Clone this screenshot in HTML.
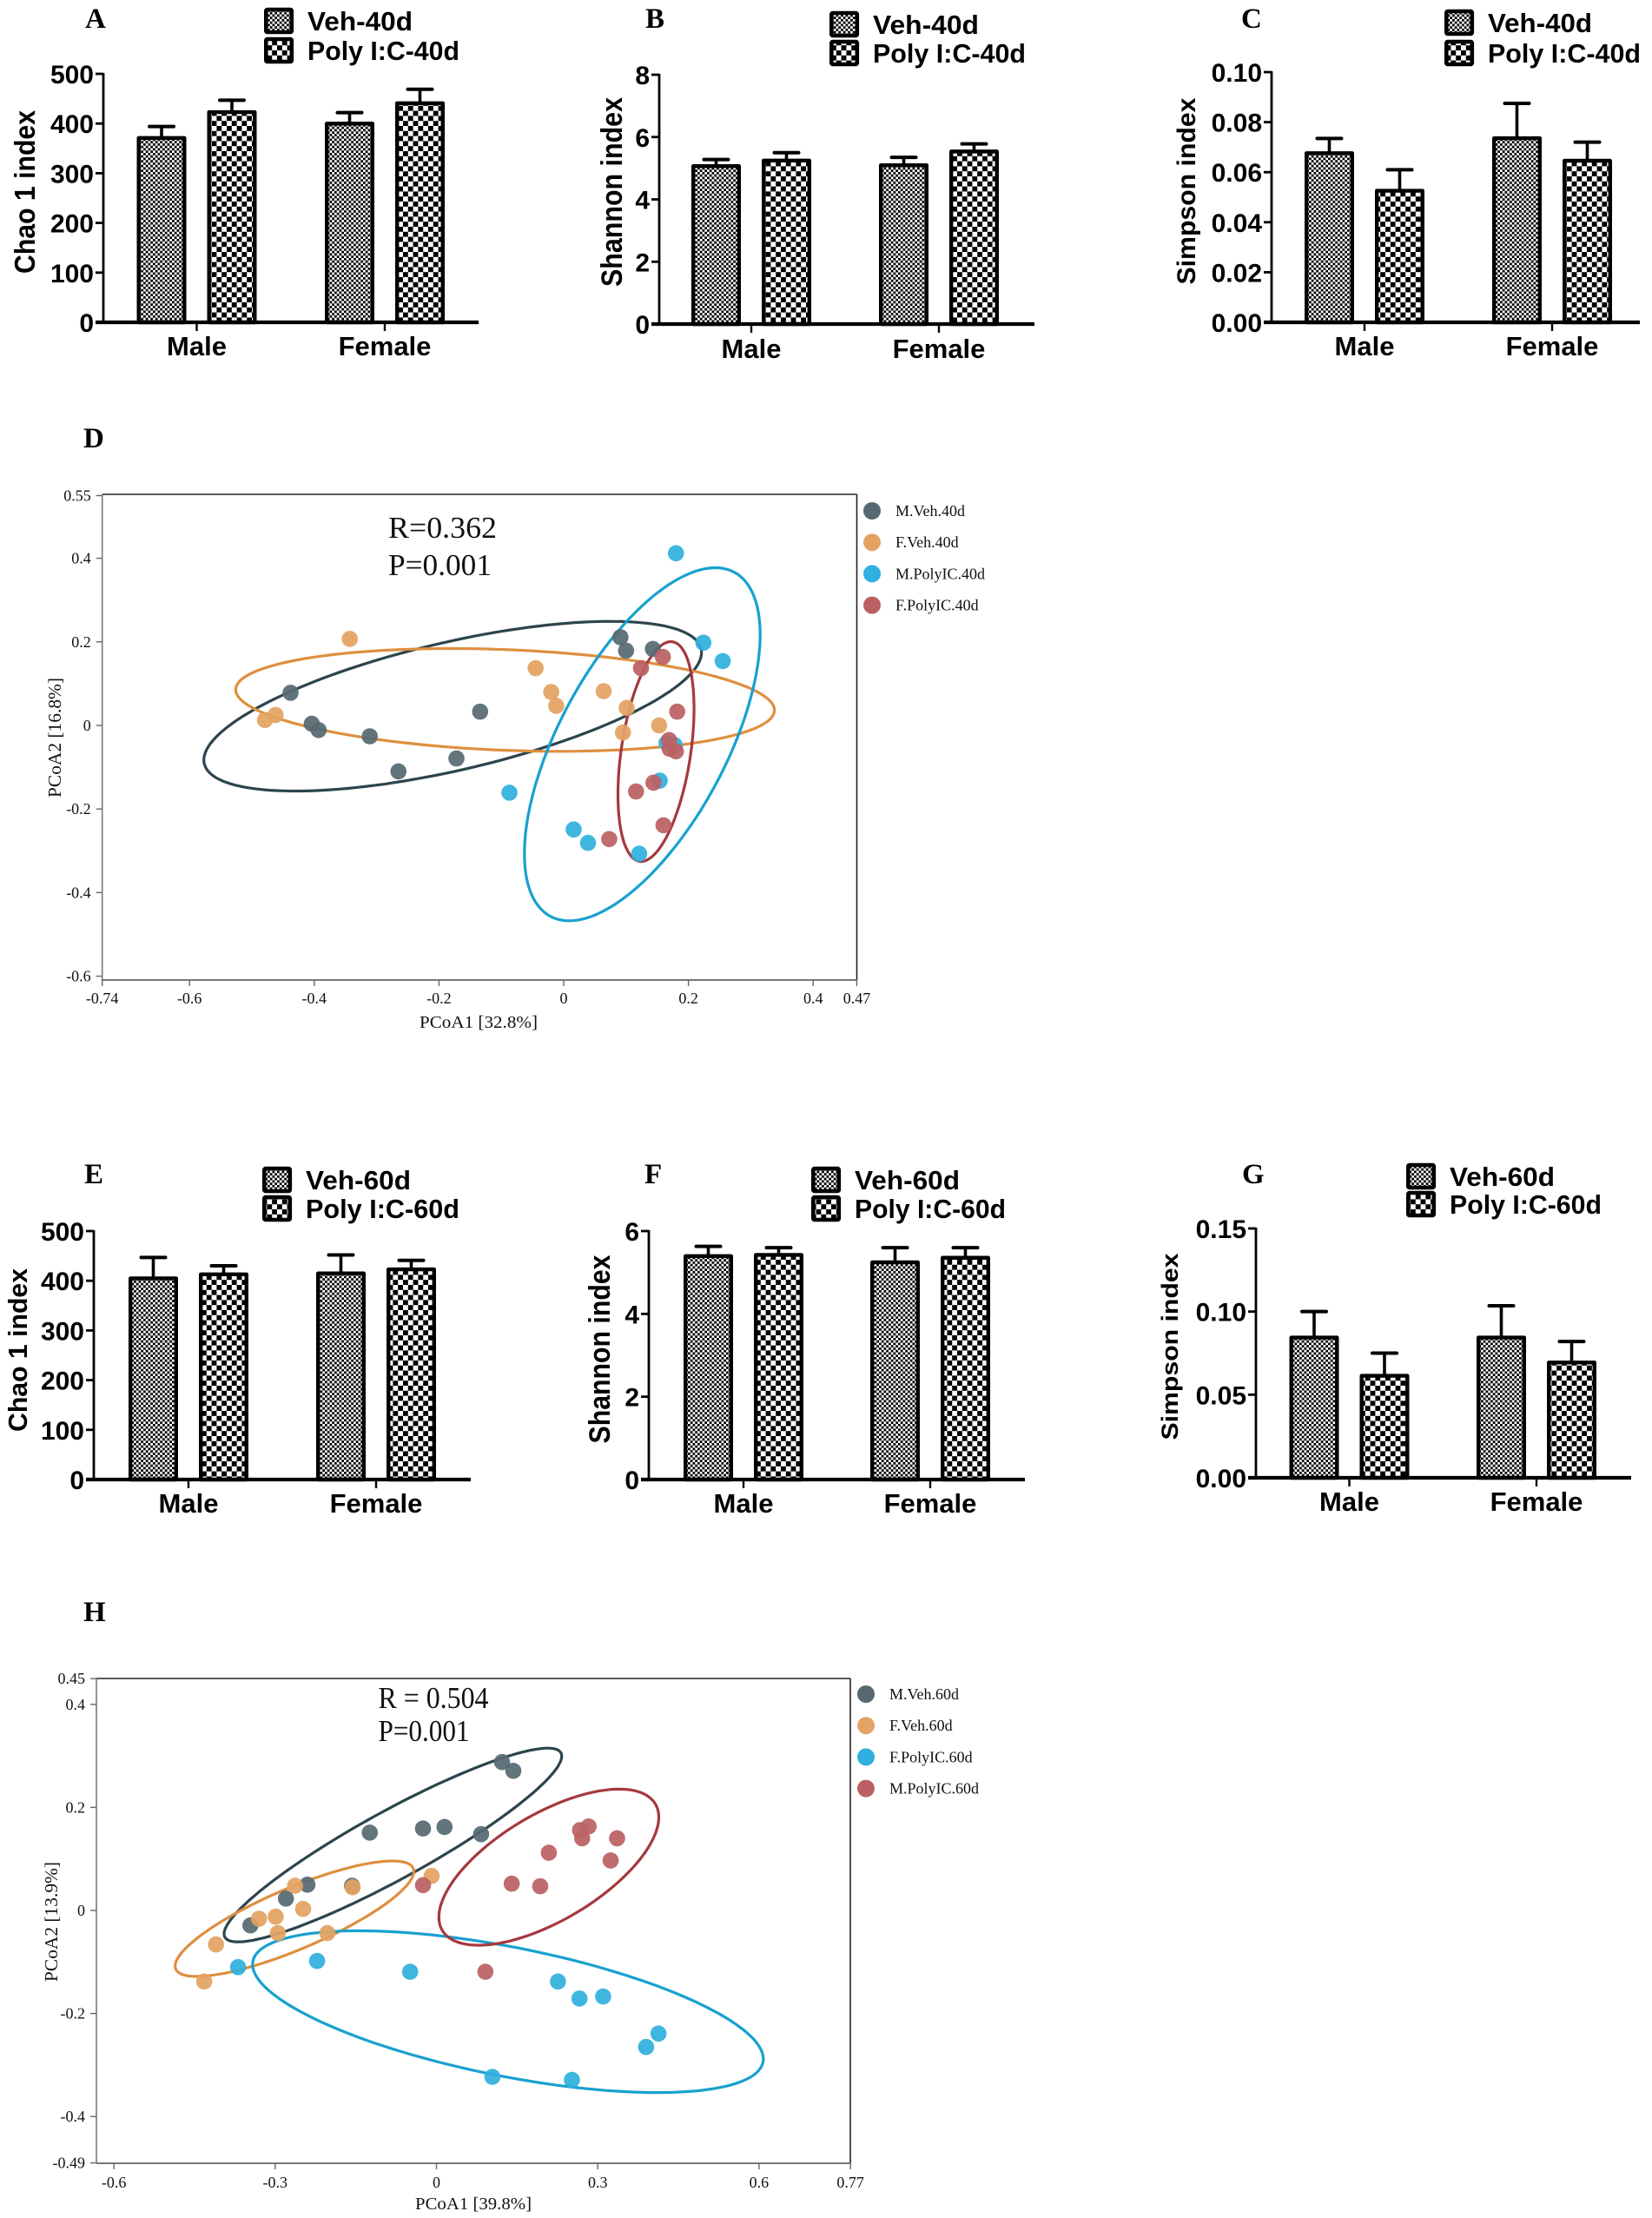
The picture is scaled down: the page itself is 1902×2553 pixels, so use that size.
<!DOCTYPE html>
<html lang="en">
<head>
<meta charset="utf-8">
<title>Alpha diversity and PCoA panels</title>
<style>
html,body{margin:0;padding:0;background:#fff;}
body{width:1902px;height:2553px;overflow:hidden;}
svg{display:block;}
.bar-font{font-family:"Liberation Sans",Arial,sans-serif;font-weight:700;fill:#000;}
.serif-font{font-family:"Liberation Serif","Times New Roman",serif;fill:#111;}
.panel-letter{font-family:"Liberation Serif","Times New Roman",serif;font-weight:700;fill:#000;font-size:33px;}
</style>
</head>
<body>
<svg id="figure" xmlns="http://www.w3.org/2000/svg" width="1902" height="2553" viewBox="0 0 1902 2553">
  <defs>
    <pattern id="fine-check" patternUnits="userSpaceOnUse" width="5.5" height="5.5">
      <rect width="5.5" height="5.5" fill="#fff"/>
      <rect width="2.75" height="2.75" fill="#000"/>
      <rect x="2.75" y="2.75" width="2.75" height="2.75" fill="#000"/>
    </pattern>
    <pattern id="coarse-check" patternUnits="userSpaceOnUse" width="11.6" height="11.6">
      <rect width="11.6" height="11.6" fill="#fff"/>
      <rect width="5.8" height="5.8" fill="#000"/>
      <rect x="5.8" y="5.8" width="5.8" height="5.8" fill="#000"/>
    </pattern>
  </defs>
</svg>
<script>
// ---- Bar chart data ----
const barCategories = ['Male', 'Female'];

const chaoTicks = ['0', '100', '200', '300', '400', '500'];
const shannon40Ticks = ['0', '2', '4', '6', '8'];
const simpson40Ticks = ['0.00', '0.02', '0.04', '0.06', '0.08', '0.10'];
const shannon60Ticks = ['0', '2', '4', '6'];
const simpson60Ticks = ['0.00', '0.05', '0.10', '0.15'];

const chao40Veh = [373, 402];
const chao40VehErr = [21, 20];
const chao40Poly = [425, 443];
const chao40PolyErr = [22, 26];

const shannon40Veh = [5.1, 5.13];
const shannon40VehErr = [0.18, 0.22];
const shannon40Poly = [5.28, 5.57];
const shannon40PolyErr = [0.22, 0.21];

const simpson40Veh = [0.068, 0.074];
const simpson40VehErr = [0.0055, 0.0135];
const simpson40Poly = [0.053, 0.065];
const simpson40PolyErr = [0.008, 0.007];

const chao60Veh = [407, 417];
const chao60VehErr = [40, 35];
const chao60Poly = [415, 425];
const chao60PolyErr = [15, 16];

const shannon60Veh = [5.42, 5.27];
const shannon60VehErr = [0.21, 0.33];
const shannon60Poly = [5.45, 5.38];
const shannon60PolyErr = [0.15, 0.22];

const simpson60Veh = [0.085, 0.085];
const simpson60VehErr = [0.015, 0.0185];
const simpson60Poly = [0.062, 0.07];
const simpson60PolyErr = [0.013, 0.012];

// ---- PCoA panel D data ----
const dXTicks = [-0.74, -0.6, -0.4, -0.2, 0, 0.2, 0.4, 0.47];
const dYTicks = [0.55, 0.4, 0.2, 0, -0.2, -0.4, -0.6];
const dLegend = ['M.Veh.40d', 'F.Veh.40d', 'M.PolyIC.40d', 'F.PolyIC.40d'];

const dMVehX = [-0.438, -0.404, -0.393, -0.311, -0.265, -0.172, -0.134, 0.091, 0.1, 0.143];
const dMVehY = [0.078, 0.004, -0.011, -0.026, -0.11, -0.079, 0.033, 0.211, 0.179, 0.183];
const dFVehX = [-0.343, -0.479, -0.462, -0.045, -0.02, -0.012, 0.064, 0.101, 0.095, 0.153];
const dFVehY = [0.207, 0.013, 0.025, 0.137, 0.08, 0.047, 0.082, 0.042, -0.017, 0];
const dMPolyX = [0.18, 0.224, 0.255, 0.165, 0.178, 0.154, -0.087, 0.016, 0.039, 0.121];
const dMPolyY = [0.412, 0.198, 0.154, -0.042, -0.047, -0.132, -0.161, -0.249, -0.281, -0.307];
const dFPolyX = [0.159, 0.124, 0.182, 0.169, 0.17, 0.18, 0.144, 0.116, 0.16, 0.073];
const dFPolyY = [0.164, 0.137, 0.033, -0.035, -0.056, -0.062, -0.137, -0.158, -0.239, -0.272];

// centre x, centre y, half x extent, half y extent, correlation
const dMVehEllipse = [-0.178, 0.046, 0.399, 0.203, 0.634];
const dFVehEllipse = [-0.094, 0.061, 0.432, 0.123, -0.2];
const dMPolyEllipse = [0.126, -0.045, 0.189, 0.4224, 0.62];
const dFPolyEllipse = [0.148, -0.0625, 0.061, 0.263, 0.39];

// ---- PCoA panel H data ----
const hXTicks = [-0.6, -0.3, 0, 0.3, 0.6, 0.77];
const hYTicks = [0.45, 0.4, 0.2, 0, -0.2, -0.4, -0.49];
const hLegend = ['M.Veh.60d', 'F.Veh.60d', 'F.PolyIC.60d', 'M.PolyIC.60d'];

const hMVehX = [0.122, 0.143, -0.124, -0.025, 0.015, 0.083, -0.24, -0.157, -0.28, -0.346];
const hMVehY = [0.288, 0.271, 0.151, 0.159, 0.162, 0.148, 0.05, 0.048, 0.023, -0.029];
const hFVehX = [-0.009, -0.263, -0.156, -0.248, -0.33, -0.299, -0.295, -0.203, -0.41, -0.432];
const hFVehY = [0.067, 0.048, 0.045, 0.003, -0.016, -0.012, -0.044, -0.044, -0.066, -0.138];
const hFPolyX = [-0.369, -0.222, -0.049, 0.226, 0.266, 0.31, 0.413, 0.39, 0.104, 0.252];
const hFPolyY = [-0.11, -0.098, -0.119, -0.138, -0.171, -0.167, -0.239, -0.265, -0.323, -0.329];
const hMPolyX = [-0.025, 0.091, 0.14, 0.193, 0.209, 0.324, 0.271, 0.267, 0.283, 0.336];
const hMPolyY = [0.049, -0.119, 0.052, 0.047, 0.112, 0.097, 0.14, 0.156, 0.163, 0.14];

const hMVehEllipse = [-0.081, 0.127, 0.314, 0.188, 0.917];
const hFVehEllipse = [-0.264, -0.016, 0.222, 0.112, 0.82];
const hFPolyEllipse = [0.133, -0.1965, 0.475, 0.157, -0.584];
const hMPolyEllipse = [0.209, 0.084, 0.2045, 0.1515, 0.64];

// ---- Drawing helpers ----
const SVG_NS = 'http://www.w3.org/2000/svg';
const root = document.getElementById('figure');

function mk(parent, tag, attrs, text) {
  const el = document.createElementNS(SVG_NS, tag);
  for (const k in attrs) el.setAttribute(k, attrs[k]);
  if (text !== undefined) el.textContent = text;
  parent.appendChild(el);
  return el;
}

function panelGroup(name) {
  const g = mk(root, 'g', {});
  
  
  return g;
}

function panelLetter(parent, letter, x, y) {
  const el = mk(parent, 'text', { x: x, y: y, class: 'panel-letter' }, letter);
  
  
}

function drawBarChart(o) {
  const g = panelGroup(o.name);
  panelLetter(g, o.letter, o.letterX, o.letterY);

  const yScale = function (v) { return o.y0 - (v / o.maxValue) * (o.y0 - o.yTop); };
  const xScale = function (i) { return o.tick0 + i * (o.tick1 - o.tick0); };
  const offset = 40.5;
  const barW = 57;
  const sw = 4.4;

  // bars and error whiskers
  const series = [
    { values: o.veh, errs: o.vehErr, side: -1, fill: 'url(#fine-check)', label: 'veh' },
    { values: o.poly, errs: o.polyErr, side: 1, fill: 'url(#coarse-check)', label: 'poly' }
  ];
  series.forEach(function (s) {
    s.values.forEach(function (v, i) {
      const cx = xScale(i) + s.side * offset;
      const topY = yScale(v);
      const errY = yScale(v + s.errs[i]);

      const stem = mk(g, 'line', { x1: cx, x2: cx, y1: topY, y2: errY, stroke: '#000', 'stroke-width': 3.6 });
      
      

      const cap = mk(g, 'line', { x1: cx - 14, x2: cx + 14, y1: errY, y2: errY, stroke: '#000', 'stroke-width': 4, 'stroke-linecap': 'round' });
      
      

      const bar = mk(g, 'rect', {
        x: cx - barW / 2 + sw / 2, y: topY + sw / 2 - 1,
        width: barW - sw, height: o.y0 - topY - sw / 2 + 1,
        fill: s.fill, stroke: '#000', 'stroke-width': sw, 'stroke-linejoin': 'round'
      });
      
      
    });
  });

  // y axis
  const yAxis = mk(g, 'line', { x1: o.axisX, x2: o.axisX, y1: o.yTop - 1, y2: o.y0, stroke: '#000', 'stroke-width': 2.8 });
  
  

  o.ticks.forEach(function (label) {
    const ty = yScale(Number(label));
    const tick = mk(g, 'line', { x1: o.axisX - 9, x2: o.axisX, y1: ty, y2: ty, stroke: '#000', 'stroke-width': 2.8 });
    
    

    const tl = mk(g, 'text', { x: o.axisX - 11, y: ty + 11, 'text-anchor': 'end', class: 'bar-font', 'font-size': 30 }, label);
    
    
  });

  // x axis
  const xAxis = mk(g, 'line', { x1: o.axisX - 9, x2: o.axisEnd, y1: o.y0, y2: o.y0, stroke: '#000', 'stroke-width': 4.2 });
  
  

  barCategories.forEach(function (c, i) {
    const tx = xScale(i);
    const tick = mk(g, 'line', { x1: tx, x2: tx, y1: o.y0, y2: o.y0 + 10, stroke: '#000', 'stroke-width': 2.4 });
    
    

    const tl = mk(g, 'text', { x: tx, y: o.catY + 11, 'text-anchor': 'middle', class: 'bar-font', 'font-size': 31 }, c);
    
    
  });

  // y title
  const title = mk(g, 'text', {
    x: 0, y: 0, 'text-anchor': 'middle', class: 'bar-font', 'font-size': o.titleSize,
    textLength: o.titleLen, lengthAdjust: 'spacingAndGlyphs',
    transform: 'translate(' + o.titleX + ' ' + o.titleY + ') rotate(-90)'
  }, o.title);
  
  

  // legend
  const legendRows = [
    { y: o.legY1, text: 'Veh-' + o.age, fill: 'url(#fine-check)', w: o.legW1 },
    { y: o.legY2, text: 'Poly I:C-' + o.age, fill: 'url(#coarse-check)', w: o.legW2 }
  ];
  legendRows.forEach(function (r) {
    const sw2 = mk(g, 'rect', {
      x: o.legX + 2.3, y: r.y - 13, width: 29.5, height: 26,
      fill: r.fill, stroke: '#000', 'stroke-width': 4.6, rx: 1.5
    });
    
    

    const t = mk(g, 'text', {
      x: o.legX + 50, y: r.y + 11, class: 'bar-font', 'font-size': 31,
      textLength: r.w, lengthAdjust: 'spacingAndGlyphs'
    }, r.text);
    
    
  });
}

function drawScatter(o) {
  const g = panelGroup(o.name);
  panelLetter(g, o.letter, o.letterX, o.letterY);

  const xS = function (v) { return o.xZero + v * o.xUnit; };
  const yS = function (v) { return o.yZero - v * o.yUnit; };
  const left = o.left, right = o.right, top = o.top, bottom = o.bottom;

  // frame
  const frameTop = mk(g, 'line', { x1: left, x2: right, y1: top, y2: top, stroke: '#222', 'stroke-width': 1.6 });
  
  

  const frameRight = mk(g, 'line', { x1: right, x2: right, y1: top, y2: bottom, stroke: '#222', 'stroke-width': 1.6 });
  
  

  const frameLeft = mk(g, 'line', { x1: left, x2: left, y1: top, y2: bottom, stroke: '#777', 'stroke-width': 1.6 });
  
  

  const frameBottom = mk(g, 'line', { x1: left, x2: right, y1: bottom, y2: bottom, stroke: '#777', 'stroke-width': 2 });
  
  

  // ticks
  o.xTicks.forEach(function (v) {
    const tx = xS(v);
    const tick = mk(g, 'line', { x1: tx, x2: tx, y1: bottom, y2: bottom + 7, stroke: '#666', 'stroke-width': 1.4 });
    
    

    const tl = mk(g, 'text', { x: tx, y: o.xLabelY + 6, 'text-anchor': 'middle', class: 'serif-font', 'font-size': 18 }, String(v));
    
    
  });
  o.yTicks.forEach(function (v) {
    const ty = yS(v);
    const tick = mk(g, 'line', { x1: left - 7, x2: left, y1: ty, y2: ty, stroke: '#666', 'stroke-width': 1.4 });
    
    

    const tl = mk(g, 'text', { x: left - 13, y: ty + 6, 'text-anchor': 'end', class: 'serif-font', 'font-size': 18 }, String(v));
    
    
  });

  // ellipses
  o.groups.forEach(function (gr) {
    const e = gr.ellipse;
    const phi = Math.acos(e[4]);
    let d = '';
    for (let k = 0; k <= 160; k++) {
      const t = k / 160 * 2 * Math.PI;
      const px = xS(e[0] + e[2] * Math.cos(t));
      const py = yS(e[1] + e[3] * Math.cos(t - phi));
      d += (k ? 'L' : 'M') + px.toFixed(1) + ' ' + py.toFixed(1);
    }
    const path = mk(g, 'path', { d: d + 'Z', fill: 'none', stroke: gr.line, 'stroke-width': 3.2 });
    
    
  });

  // points
  o.groups.forEach(function (gr) {
    gr.xs.forEach(function (v, i) {
      const c = mk(g, 'circle', { cx: xS(v), cy: yS(gr.ys[i]), r: 9.3, fill: gr.point, 'fill-opacity': 0.93 });
      
      
    });
  });

  // legend
  o.legend.forEach(function (label, i) {
    const ly = o.legendY + i * o.legendStep;
    const c = mk(g, 'circle', { cx: o.legendX, cy: ly, r: 10, fill: o.groups[i].point });
    
    

    const t = mk(g, 'text', { x: o.legendX + 27, y: ly + 6, class: 'serif-font', 'font-size': 18 }, label);
    
    
  });

  // statistics annotation
  const rText = mk(g, 'text', {
    x: o.statX, y: o.rY + 12, class: 'serif-font', 'font-size': 35,
    textLength: o.rLen, lengthAdjust: 'spacingAndGlyphs'
  }, o.rLabel);
  
  

  const pText = mk(g, 'text', {
    x: o.statX, y: o.pY + 12, class: 'serif-font', 'font-size': 35,
    textLength: o.pLen, lengthAdjust: 'spacingAndGlyphs'
  }, 'P=0.001');
  
  

  // axis titles
  const xt = mk(g, 'text', {
    x: o.xTitleX, y: o.xTitleY + 7, 'text-anchor': 'middle', class: 'serif-font', 'font-size': 20,
    textLength: o.xTitleLen, lengthAdjust: 'spacingAndGlyphs'
  }, o.xTitle);
  
  

  const yt = mk(g, 'text', {
    x: 0, y: 0, 'text-anchor': 'middle', class: 'serif-font', 'font-size': 21,
    textLength: o.yTitleLen, lengthAdjust: 'spacingAndGlyphs',
    transform: 'translate(' + o.yTitleX + ' ' + o.yTitleY + ') rotate(-90)'
  }, o.yTitle);
  
  
}

// ---- Panels ----
drawBarChart({
  name: 'panel-a-chao-40d', letter: 'A', letterX: 98, letterY: 32, age: '40d',
  veh: chao40Veh, vehErr: chao40VehErr, poly: chao40Poly, polyErr: chao40PolyErr,
  ticks: chaoTicks, maxValue: 500, axisX: 119, y0: 371, yTop: 85, axisEnd: 551, tick0: 226.5, tick1: 443, catY: 398,
  title: 'Chao 1 index', titleSize: 33, titleLen: 188, titleX: 40, titleY: 221,
  legX: 304, legY1: 24, legY2: 58, legW1: 121, legW2: 175
});
drawBarChart({
  name: 'panel-b-shannon-40d', letter: 'B', letterX: 743, letterY: 32, age: '40d',
  veh: shannon40Veh, vehErr: shannon40VehErr, poly: shannon40Poly, polyErr: shannon40PolyErr,
  ticks: shannon40Ticks, maxValue: 8, axisX: 759, y0: 373, yTop: 86, axisEnd: 1191, tick0: 865, tick1: 1081, catY: 401,
  title: 'Shannon index', titleSize: 34, titleLen: 218, titleX: 716, titleY: 221,
  legX: 955, legY1: 28, legY2: 61, legW1: 122, legW2: 176
});
drawBarChart({
  name: 'panel-c-simpson-40d', letter: 'C', letterX: 1429, letterY: 32, age: '40d',
  veh: simpson40Veh, vehErr: simpson40VehErr, poly: simpson40Poly, polyErr: simpson40PolyErr,
  ticks: simpson40Ticks, maxValue: 0.1, axisX: 1464, y0: 371, yTop: 83, axisEnd: 1888, tick0: 1571, tick1: 1787, catY: 398,
  title: 'Simpson index', titleSize: 30, titleLen: 215, titleX: 1376, titleY: 220,
  legX: 1663, legY1: 26, legY2: 61, legW1: 120, legW2: 176
});
drawBarChart({
  name: 'panel-e-chao-60d', letter: 'E', letterX: 97, letterY: 1362, age: '60d',
  veh: chao60Veh, vehErr: chao60VehErr, poly: chao60Poly, polyErr: chao60PolyErr,
  ticks: chaoTicks, maxValue: 500, axisX: 108, y0: 1703, yTop: 1417, axisEnd: 542, tick0: 217, tick1: 433, catY: 1730,
  title: 'Chao 1 index', titleSize: 31, titleLen: 188, titleX: 31, titleY: 1554,
  legX: 302, legY1: 1358, legY2: 1391, legW1: 121, legW2: 177
});
drawBarChart({
  name: 'panel-f-shannon-60d', letter: 'F', letterX: 742, letterY: 1362, age: '60d',
  veh: shannon60Veh, vehErr: shannon60VehErr, poly: shannon60Poly, polyErr: shannon60PolyErr,
  ticks: shannon60Ticks, maxValue: 6, axisX: 747, y0: 1703, yTop: 1417, axisEnd: 1180, tick0: 856, tick1: 1071, catY: 1730,
  title: 'Shannon index', titleSize: 34, titleLen: 217, titleX: 702, titleY: 1553,
  legX: 934, legY1: 1358, legY2: 1391, legW1: 121, legW2: 174
});
drawBarChart({
  name: 'panel-g-simpson-60d', letter: 'G', letterX: 1430, letterY: 1362, age: '60d',
  veh: simpson60Veh, vehErr: simpson60VehErr, poly: simpson60Poly, polyErr: simpson60PolyErr,
  ticks: simpson60Ticks, maxValue: 0.15, axisX: 1446, y0: 1701, yTop: 1414, axisEnd: 1878, tick0: 1553.5, tick1: 1769, catY: 1728,
  title: 'Simpson index', titleSize: 27, titleLen: 215, titleX: 1356, titleY: 1550,
  legX: 1619, legY1: 1354, legY2: 1386, legW1: 121, legW2: 175
});

drawScatter({
  name: 'panel-d-pcoa-40d', letter: 'D', letterX: 96, letterY: 515,
  left: 117.7, right: 986.5, top: 569, bottom: 1128,
  xZero: 649, xUnit: 718, yZero: 835, yUnit: 481,
  xTicks: dXTicks, yTicks: dYTicks, xLabelY: 1149,
  legend: dLegend, legendX: 1004, legendY: 588, legendStep: 36.2,
  groups: [
    { xs: dMVehX, ys: dMVehY, ellipse: dMVehEllipse, point: '#566972', line: '#2c444d' },
    { xs: dFVehX, ys: dFVehY, ellipse: dFVehEllipse, point: '#e3a363', line: '#de8f3e' },
    { xs: dMPolyX, ys: dMPolyY, ellipse: dMPolyEllipse, point: '#2fb0de', line: '#17a1cf' },
    { xs: dFPolyX, ys: dFPolyY, ellipse: dFPolyEllipse, point: '#bb6163', line: '#a5383e' }
  ],
  statX: 447, rY: 607, pY: 650, rLabel: 'R=0.362', rLen: 125, pLen: 119,
  xTitle: 'PCoA1 [32.8%]', xTitleX: 551, xTitleY: 1176, xTitleLen: 136,
  yTitle: 'PCoA2 [16.8%]', yTitleX: 70, yTitleY: 849, yTitleLen: 138
});
drawScatter({
  name: 'panel-h-pcoa-60d', letter: 'H', letterX: 96, letterY: 1866,
  left: 111, right: 979, top: 1932, bottom: 2490,
  xZero: 502.5, xUnit: 619, yZero: 2199, yUnit: 593,
  xTicks: hXTicks, yTicks: hYTicks, xLabelY: 2512,
  legend: hLegend, legendX: 997, legendY: 1950, legendStep: 36.2,
  groups: [
    { xs: hMVehX, ys: hMVehY, ellipse: hMVehEllipse, point: '#566972', line: '#2c444d' },
    { xs: hFVehX, ys: hFVehY, ellipse: hFVehEllipse, point: '#e3a363', line: '#de8f3e' },
    { xs: hFPolyX, ys: hFPolyY, ellipse: hFPolyEllipse, point: '#2fb0de', line: '#17a1cf' },
    { xs: hMPolyX, ys: hMPolyY, ellipse: hMPolyEllipse, point: '#bb6163', line: '#a5383e' }
  ],
  statX: 435.5, rY: 1954, pY: 1992, rLabel: 'R = 0.504', rLen: 127, pLen: 105,
  xTitle: 'PCoA1 [39.8%]', xTitleX: 545, xTitleY: 2536, xTitleLen: 134,
  yTitle: 'PCoA2 [13.9%]', yTitleX: 66, yTitleY: 2212, yTitleLen: 138
});
</script>
</body>
</html>
